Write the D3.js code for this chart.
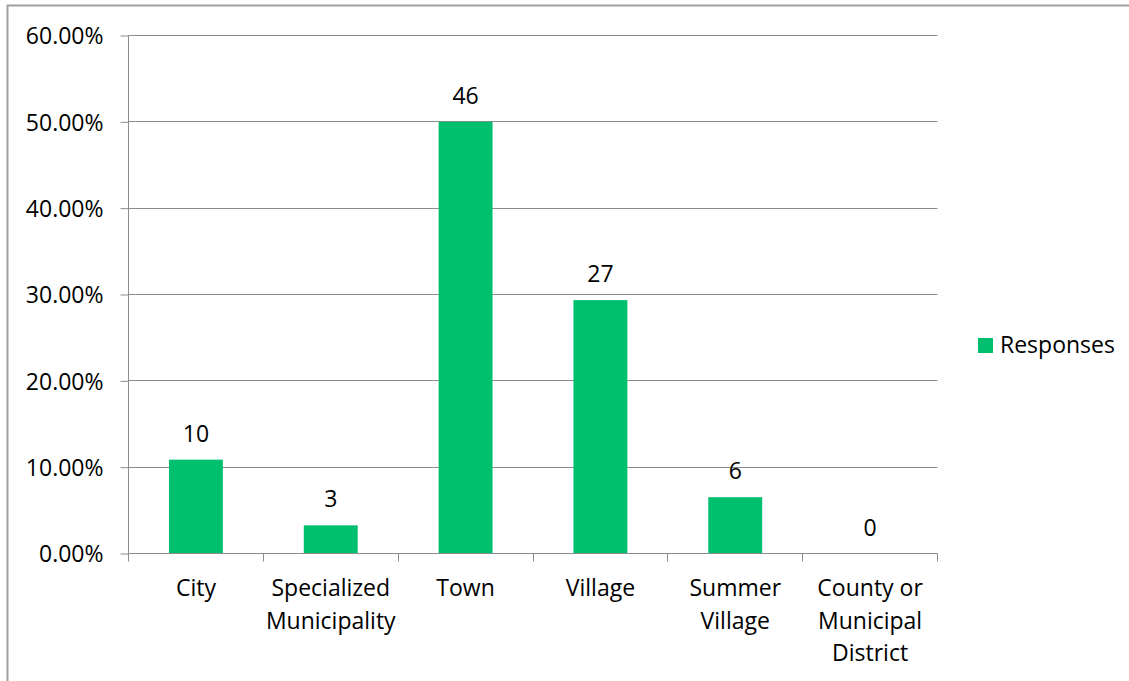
<!DOCTYPE html>
<html>
<head>
<meta charset="utf-8">
<script src="https://cdn.jsdelivr.net/npm/d3@7"></script>
<style>
html,body{margin:0;padding:0;background:#fff;}
svg{display:block;}
text{font-family:"Open Sans", "Noto Sans", sans-serif;fill:#000;}
</style>
</head>
<body>
<svg id="chart" width="1129" height="681"></svg>
<script>
const categories = [["City"], ["Specialized", "Municipality"], ["Town"], ["Village"], ["Summer", "Village"], ["County or", "Municipal", "District"]];
const percents = [10.87, 3.26, 50.00, 29.35, 6.52, 0.00];
const counts = [10, 3, 46, 27, 6, 0];
const yTicks = [0, 10, 20, 30, 40, 50, 60];
const seriesName = "Responses";

(function() {
const svg = d3.select("#chart");
const color = "#00bf6f";
const gridColor = "#8c8c8c";
const fontSize = 23;
const pLeft = 128.5, pRight = 937.5, pTop = 35.5, pBottom = 553.5;

// outer border
svg.append("path").attr("d", `M7.5,681 V5.5 H1129`).attr("fill", "none").attr("stroke", "#a0a0a0").attr("stroke-width", 2);

const x = d3.scaleBand().domain(d3.range(categories.length)).range([pLeft, pRight]).paddingInner(0.6).paddingOuter(0.3);
const y = d3.scaleLinear().domain([0, 60]).range([pBottom, pTop]);

// gridlines
svg.append("g").selectAll("line").data(yTicks.filter(d => d > 0)).join("line")
  .attr("x1", pLeft).attr("x2", pRight)
  .attr("y1", d => Math.round(y(d) - 0.5) + 0.5).attr("y2", d => Math.round(y(d) - 0.5) + 0.5)
  .attr("stroke", gridColor).attr("stroke-width", 1);

// y axis
const yAxis = svg.append("g").attr("transform", `translate(${pLeft},0)`)
  .call(d3.axisLeft(y).tickValues(yTicks).tickSize(8).tickPadding(17).tickFormat(d => d.toFixed(2) + "%"));
yAxis.select(".domain").attr("stroke", gridColor).attr("d", `M0,${pBottom} V${pTop}`);
yAxis.selectAll(".tick line").attr("stroke", gridColor);
yAxis.selectAll(".tick text").attr("font-size", fontSize).attr("font-family", "'Open Sans', sans-serif").attr("fill", "#000").attr("dy", "0.36em");

// bars
svg.append("g").selectAll("rect").data(percents).join("rect")
  .attr("x", (d, i) => x(i)).attr("width", x.bandwidth())
  .attr("y", d => y(d)).attr("height", d => y(0) - y(d))
  .attr("fill", color);

// x axis
const step = x.step();
const xg = svg.append("g");
xg.append("line").attr("x1", pLeft).attr("x2", pRight).attr("y1", pBottom).attr("y2", pBottom).attr("stroke", gridColor).attr("stroke-width", 1);
xg.selectAll("line.tk").data(d3.range(categories.length + 1)).join("line").attr("class", "tk")
  .attr("x1", i => Math.round(pLeft - 0.5 + i * step) + 0.5).attr("x2", i => Math.round(pLeft - 0.5 + i * step) + 0.5)
  .attr("y1", pBottom).attr("y2", pBottom + 8).attr("stroke", gridColor);

// category labels
xg.selectAll("text.cat").data(categories).join("text").attr("class", "cat")
  .attr("x", (d, i) => x(i) + x.bandwidth() / 2).attr("y", 596)
  .attr("text-anchor", "middle").attr("font-size", fontSize)
  .selectAll("tspan").data(d => d).join("tspan")
  .attr("x", function() { return d3.select(this.parentNode).attr("x"); })
  .attr("dy", (d, j) => j === 0 ? 0 : 32.7)
  .text(d => d);

// value labels
svg.append("g").selectAll("text").data(percents).join("text")
  .attr("x", (d, i) => x(i) + x.bandwidth() / 2).attr("y", d => y(d) - 18)
  .attr("text-anchor", "middle").attr("font-size", fontSize)
  .text((d, i) => counts[i]);

// legend
const lg = svg.append("g").attr("transform", "translate(978,338)");
lg.append("rect").attr("width", 15).attr("height", 15).attr("fill", color);
lg.append("text").attr("x", 22).attr("y", 15).attr("font-size", fontSize).text(seriesName);
})();
</script>
</body>
</html>
